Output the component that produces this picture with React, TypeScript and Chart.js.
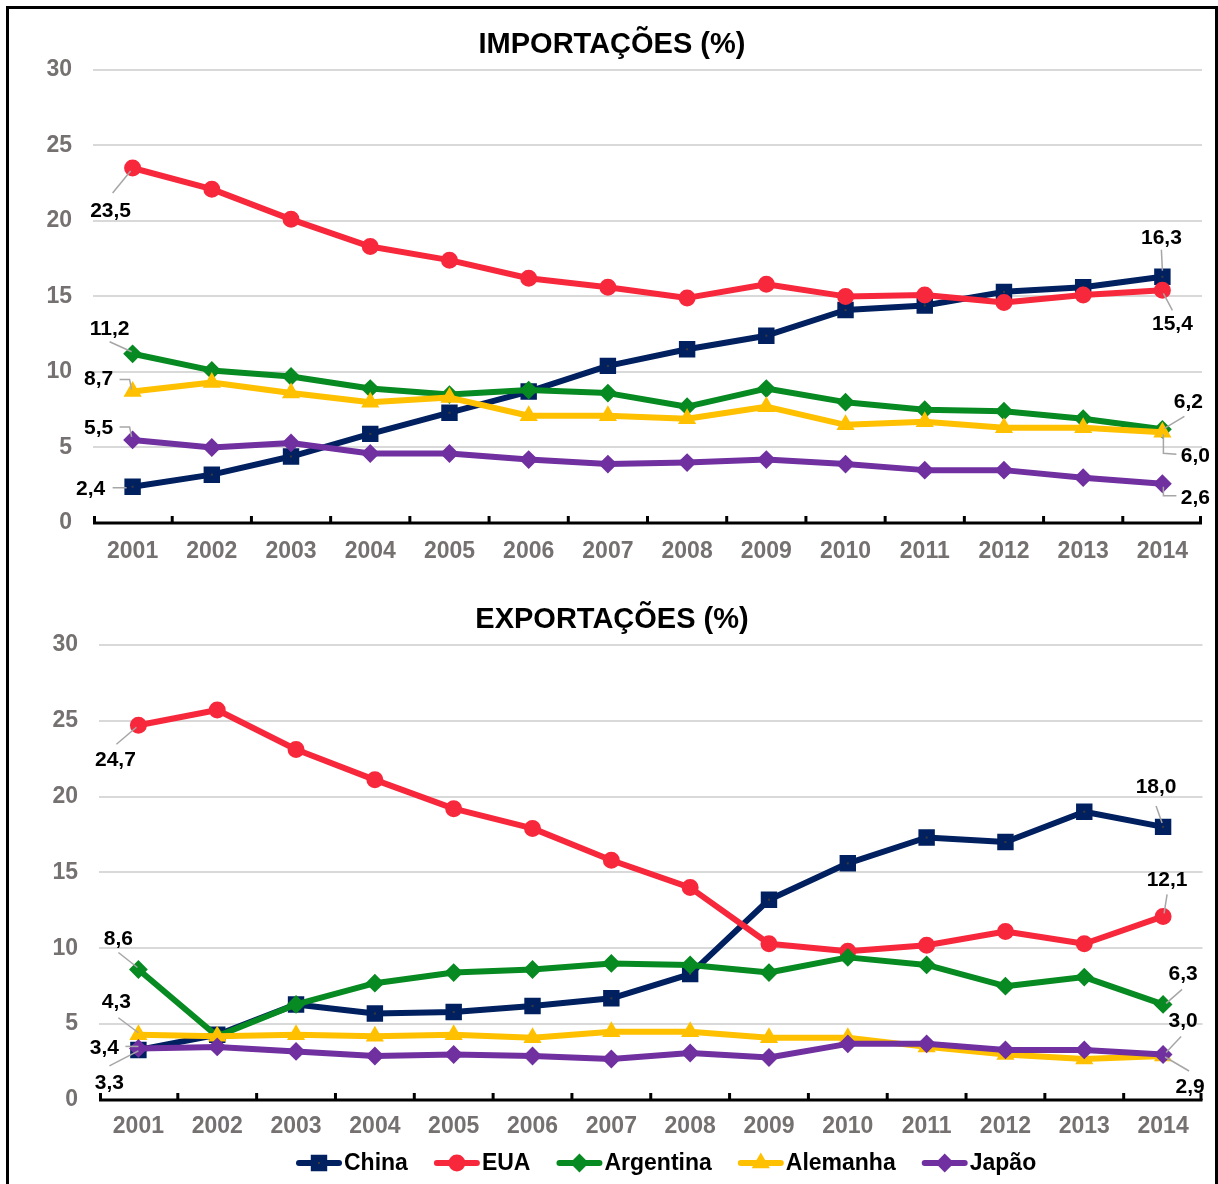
import React, { useEffect, useRef } from 'react';
import { Chart, registerables } from 'chart.js';

Chart.register(...registerables);

const FONT = "'Liberation Sans', Arial, Helvetica, sans-serif";

// ---------- DATA ----------
const years = ['2001', '2002', '2003', '2004', '2005', '2006', '2007', '2008', '2009', '2010', '2011', '2012', '2013', '2014'];
const seriesNames = ['China', 'EUA', 'Argentina', 'Alemanha', 'Japão'];
const yMin = 0;
const yMax = 30;
const yStep = 5;

// Importações (%)
const impChina = [2.4, 3.2, 4.4, 5.9, 7.3, 8.7, 10.4, 11.5, 12.4, 14.1, 14.4, 15.3, 15.6, 16.3];
const impEUA = [23.5, 22.1, 20.1, 18.3, 17.4, 16.2, 15.6, 14.9, 15.8, 15.0, 15.1, 14.6, 15.1, 15.4];
const impArgentina = [11.2, 10.1, 9.7, 8.9, 8.5, 8.8, 8.6, 7.7, 8.9, 8.0, 7.5, 7.4, 6.9, 6.2];
const impAlemanha = [8.7, 9.3, 8.6, 8.0, 8.3, 7.1, 7.1, 6.9, 7.7, 6.5, 6.7, 6.3, 6.3, 6.0];
const impJapao = [5.5, 5.0, 5.3, 4.6, 4.6, 4.2, 3.9, 4.0, 4.2, 3.9, 3.5, 3.5, 3.0, 2.6];

// Exportações (%)
const expChina = [3.3, 4.3, 6.3, 5.7, 5.8, 6.2, 6.7, 8.3, 13.2, 15.6, 17.3, 17.0, 19.0, 18.0];
const expEUA = [24.7, 25.7, 23.1, 21.1, 19.2, 17.9, 15.8, 14.0, 10.3, 9.8, 10.2, 11.1, 10.3, 12.1];
const expArgentina = [8.6, 4.2, 6.3, 7.7, 8.4, 8.6, 9.0, 8.9, 8.4, 9.4, 8.9, 7.5, 8.1, 6.3];
const expAlemanha = [4.3, 4.2, 4.3, 4.2, 4.3, 4.1, 4.5, 4.5, 4.1, 4.1, 3.5, 3.0, 2.7, 2.9];
const expJapao = [3.4, 3.5, 3.2, 2.9, 3.0, 2.9, 2.7, 3.1, 2.8, 3.7, 3.7, 3.3, 3.3, 3.0];

// ---------- STYLES ----------
type SeriesStyle = { color: string; pointStyle: string; radius: number; pbw: number };
const seriesStyles: SeriesStyle[] = [
  { color: '#002060', pointStyle: 'rect', radius: 9.5, pbw: 3 },
  { color: '#F8283C', pointStyle: 'circle', radius: 7, pbw: 3 },
  { color: '#088A22', pointStyle: 'rectRot', radius: 8, pbw: 2 },
  { color: '#FFC000', pointStyle: 'triangle', radius: 8.5, pbw: 2 },
  { color: '#7030A0', pointStyle: 'rectRot', radius: 8, pbw: 2 },
];

type LabelSpec = { ds: number; idx: number; text: [number, number]; path: [number, number][] };

const impLabelSpecs: LabelSpec[] = [
  { ds: 1, idx: 0, text: [-22, 43], path: [[-2, 3], [-20, 25]] },
  { ds: 2, idx: 0, text: [-23, -25], path: [[-1, -2], [-23, -12]] },
  { ds: 3, idx: 0, text: [-34, -12], path: [[-1, -2], [-3, -12], [-13, -12]] },
  { ds: 4, idx: 0, text: [-34, -12], path: [[-1, -3], [-3, -13], [-13, -13]] },
  { ds: 0, idx: 0, text: [-42, 2], path: [[-6, 1], [-20, 1]] },
  { ds: 0, idx: 13, text: [-1, -39], path: [[0, -6], [-1, -27]] },
  { ds: 1, idx: 13, text: [10, 34], path: [[1, 3], [10, 20]] },
  { ds: 2, idx: 13, text: [26, -27], path: [[2, -1], [22, -13]] },
  { ds: 3, idx: 13, text: [33, 24], path: [[1, 2], [1, 21], [14, 22]] },
  { ds: 4, idx: 13, text: [33, 14], path: [[1, 3], [1, 12], [14, 12]] },
];

const expLabelSpecs: LabelSpec[] = [
  { ds: 1, idx: 0, text: [-23, 35], path: [[-2, 2], [-22, 19]] },
  { ds: 2, idx: 0, text: [-20, -30], path: [[-1, -2], [-20, -17]] },
  { ds: 3, idx: 0, text: [-22, -33], path: [[0, -2], [-20, -17]] },
  { ds: 4, idx: 0, text: [-34, 0], path: [[0, -2], [-13, -2]] },
  { ds: 0, idx: 0, text: [-29, 33], path: [[0, 1], [-29, 16]] },
  { ds: 0, idx: 13, text: [-7, -40], path: [[-1, -4], [-7, -21]] },
  { ds: 1, idx: 13, text: [4, -36], path: [[1, -3], [4, -22]] },
  { ds: 2, idx: 13, text: [20, -30], path: [[3, -1], [19, -15]] },
  { ds: 4, idx: 13, text: [20, -33], path: [[3, -2], [18, -18]] },
  { ds: 3, idx: 13, text: [27, 31], path: [[2, 1], [26, 15]] },
];

const fmt = (v: number) => v.toFixed(1).replace('.', ',');

function drawMarker(ctx: CanvasRenderingContext2D, style: SeriesStyle, x: number, y: number) {
  const r = style.radius;
  ctx.save();
  ctx.fillStyle = style.color;
  ctx.strokeStyle = style.color;
  ctx.lineWidth = style.pbw;
  ctx.beginPath();
  if (style.pointStyle === 'circle') {
    ctx.arc(x, y, r, 0, Math.PI * 2);
  } else if (style.pointStyle === 'rect') {
    const s = r * Math.SQRT1_2;
    ctx.rect(x - s, y - s, 2 * s, 2 * s);
  } else if (style.pointStyle === 'rectRot') {
    ctx.moveTo(x, y - r);
    ctx.lineTo(x + r, y);
    ctx.lineTo(x, y + r);
    ctx.lineTo(x - r, y);
    ctx.closePath();
  } else {
    for (let k = 0; k < 3; k++) {
      const a = (k * 2 * Math.PI) / 3;
      const px = x + Math.sin(a) * r;
      const py = y - Math.cos(a) * r;
      if (k === 0) ctx.moveTo(px, py);
      else ctx.lineTo(px, py);
    }
    ctx.closePath();
  }
  ctx.fill();
  ctx.stroke();
  if (style.pointStyle === 'rect') {
    ctx.fillStyle = '#3a3a3a';
    ctx.fillRect(x - 1, y - 1, 2, 2);
  }
  ctx.restore();
}

function makeDatasets(values: number[][]) {
  return values.map((v, i) => {
    const s = seriesStyles[i];
    return {
      label: seriesNames[i],
      data: v,
      borderColor: s.color,
      backgroundColor: s.color,
      borderWidth: 6,
      borderJoinStyle: 'round',
      borderCapStyle: 'round',
      tension: 0,
      pointStyle: s.pointStyle,
      pointRadius: s.radius,
      pointHoverRadius: s.radius,
      pointBorderWidth: s.pbw,
      pointBackgroundColor: s.color,
      pointBorderColor: s.color,
      order: values.length - 1 - i,
    };
  });
}

const axisPlugin = {
  id: 'axisAndLabels',
  afterDatasetDraw(chart: any, args: any) {
    // small dark dot in the centre of the square markers
    if (args.index !== 0) return;
    const ctx: CanvasRenderingContext2D = chart.ctx;
    ctx.save();
    ctx.fillStyle = '#3a3a3a';
    args.meta.data.forEach((pt: any) => {
      ctx.fillRect(pt.x - 1, pt.y - 1, 2, 2);
    });
    ctx.restore();
  },
  afterDraw(chart: any, _args: any, opts: any) {
    const ctx: CanvasRenderingContext2D = chart.ctx;
    const area = chart.chartArea;
    const xs = chart.scales.x;
    const ys = chart.scales.y;
    ctx.save();
    // x axis line
    ctx.strokeStyle = '#000';
    ctx.lineWidth = 3;
    ctx.beginPath();
    ctx.moveTo(area.left, area.bottom);
    ctx.lineTo(area.right, area.bottom);
    ctx.stroke();
    // tick marks at category boundaries (pointing up)
    const n = years.length;
    const bounds: number[] = [area.left];
    for (let i = 1; i < n; i++) {
      bounds.push((xs.getPixelForValue(i - 1) + xs.getPixelForValue(i)) / 2);
    }
    bounds.push(area.right);
    ctx.lineWidth = 3;
    bounds.forEach((bx, k) => {
      const px = k === 0 ? bx + 1.5 : k === bounds.length - 1 ? bx - 1.5 : bx;
      ctx.beginPath();
      ctx.moveTo(px, area.bottom);
      ctx.lineTo(px, area.bottom - 7);
      ctx.stroke();
    });

    // data labels with leader lines
    const specs: LabelSpec[] = opts.specs || [];
    specs.forEach((sp) => {
      const value = chart.data.datasets[sp.ds].data[sp.idx] as number;
      const px = xs.getPixelForValue(sp.idx);
      const py = ys.getPixelForValue(value);
      ctx.strokeStyle = '#A6A6A6';
      ctx.lineWidth = 1.5;
      ctx.beginPath();
      sp.path.forEach(([dx, dy], k) => {
        if (k === 0) ctx.moveTo(px + dx, py + dy);
        else ctx.lineTo(px + dx, py + dy);
      });
      ctx.stroke();
      ctx.fillStyle = '#000';
      ctx.font = `bold 21px ${FONT}`;
      ctx.textAlign = 'center';
      ctx.textBaseline = 'middle';
      ctx.fillText(fmt(value), px + sp.text[0], py + sp.text[1]);
    });

    // custom legend
    if (opts.legend) {
      const { x0, y0 } = opts.legend;
      let x = x0;
      chart.data.datasets.forEach((ds: any, i: number) => {
        const s = seriesStyles[i];
        ctx.strokeStyle = s.color;
        ctx.lineWidth = 6;
        ctx.lineCap = 'round';
        ctx.beginPath();
        ctx.moveTo(x + 3, y0);
        ctx.lineTo(x + 43, y0);
        ctx.stroke();
        drawMarker(ctx, s, x + 23, y0);
        ctx.fillStyle = '#000';
        ctx.font = `bold 23px ${FONT}`;
        ctx.textAlign = 'left';
        ctx.textBaseline = 'middle';
        ctx.fillText(ds.label, x + 48, y0 + 1);
        x += 48 + ctx.measureText(ds.label).width + 26;
      });
    }
    ctx.restore();
  },
};

type ChartProps = {
  title: string;
  values: number[][];
  specs: LabelSpec[];
  width: number;
  height: number;
  yAxisWidth: number;
  xAxisHeight: number;
  padSide: number;
  titleTop: number;
  titleBottom: number;
  xTickPad: number;
  legend?: { x0: number; y0: number };
};

function LineChart(p: ChartProps) {
  const ref = useRef<HTMLCanvasElement | null>(null);
  useEffect(() => {
    if (!ref.current) return;
    const tickFont = { family: FONT, size: 23, weight: 'bold' as const };
    const chart = new Chart(ref.current, {
      type: 'line',
      data: { labels: years, datasets: makeDatasets(p.values) as any },
      plugins: [axisPlugin],
      options: {
        responsive: false,
        animation: false,
        devicePixelRatio: 1,
        events: [],
        layout: { padding: { left: p.padSide, right: p.padSide, top: 0, bottom: 0 } },
        plugins: {
          legend: { display: false },
          tooltip: { enabled: false },
          title: {
            display: true,
            text: p.title,
            color: '#000',
            font: { family: FONT, size: 29, weight: 'bold', lineHeight: 1.2 },
            padding: { top: p.titleTop, bottom: p.titleBottom },
          },
          axisAndLabels: { specs: p.specs, legend: p.legend },
        } as any,
        scales: {
          x: {
            type: 'category',
            offset: true,
            grid: { display: false, drawTicks: false },
            border: { display: false },
            ticks: {
              color: '#767171',
              font: tickFont,
              padding: p.xTickPad,
              maxRotation: 0,
              autoSkip: false,
            },
            afterFit: (s: any) => {
              s.height = p.xAxisHeight;
            },
          },
          y: {
            min: yMin,
            max: yMax,
            ticks: { stepSize: yStep, color: '#767171', font: tickFont, padding: 21 },
            grid: { color: '#D9D9D9', lineWidth: 2, drawTicks: false },
            border: { display: false },
            afterFit: (s: any) => {
              s.width = p.yAxisWidth;
            },
          },
        },
      } as any,
    });
    return () => chart.destroy();
  }, []);
  return <canvas ref={ref} width={p.width} height={p.height} style={{ display: 'block' }} />;
}

export default function App() {
  return (
    <div
      style={{
        position: 'fixed',
        left: 6,
        top: 6,
        width: 1212,
        height: 1190,
        border: '3px solid #000',
        boxSizing: 'border-box',
        background: '#fff',
      }}
    >
      <div style={{ position: 'absolute', left: 0, top: 0 }}>
        <LineChart
          title="IMPORTAÇÕES (%)"
          values={[impChina, impEUA, impArgentina, impAlemanha, impJapao]}
          specs={impLabelSpecs}
          width={1206}
          height={566}
          yAxisWidth={71}
          xAxisHeight={52}
          padSide={13}
          titleTop={19}
          titleBottom={7}
          xTickPad={15}
        />
      </div>
      <div style={{ position: 'absolute', left: 0, top: 566 }}>
        <LineChart
          title="EXPORTAÇÕES (%)"
          values={[expChina, expEUA, expArgentina, expAlemanha, expJapao]}
          specs={expLabelSpecs}
          width={1206}
          height={609}
          yAxisWidth={83}
          xAxisHeight={84}
          padSide={7}
          titleTop={28}
          titleBottom={7}
          xTickPad={13}
          legend={{ x0: 287, y0: 588 }}
        />
      </div>
    </div>
  );
}
